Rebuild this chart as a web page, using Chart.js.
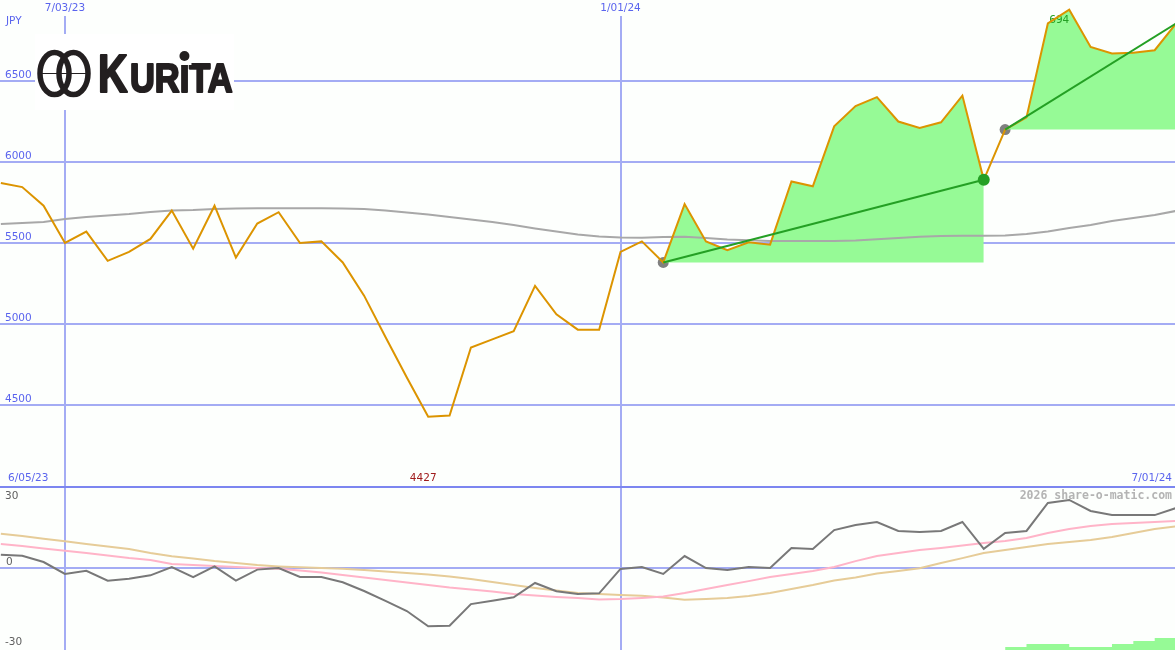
<!DOCTYPE html>
<html>
<head>
<meta charset="utf-8">
<title>Kurita</title>
<script src="https://cdn.jsdelivr.net/npm/chart.js@4.4.1/dist/chart.umd.min.js"></script>
<style>
  html, body { margin: 0; padding: 0; background: #fdfffd; }
  #wrap { position: relative; width: 1175px; height: 650px; overflow: hidden; }
  canvas { position: absolute; left: 0; }
  #priceChart { top: 0; }
  #oscChart { top: 488px; }
</style>
</head>
<body>
<div id="wrap">
  <canvas id="priceChart" width="1175" height="488"></canvas>
  <canvas id="oscChart" width="1175" height="162"></canvas>
</div>
<script>
// weekly closes, week 0 = 12 Jun 2023 ... week 55 = 1 Jul 2024
var price = [5870, 5845, 5730, 5500, 5570, 5390, 5445, 5525, 5700, 5465,
             5730, 5410, 5620, 5690, 5500, 5510, 5380, 5175, 4920, 4670,
             4427, 4435, 4855, 4905, 4955, 5235, 5060, 4965, 4965, 5445,
             5510, 5380, 5740, 5510, 5455, 5505, 5490, 5880, 5850, 6220,
             6345, 6400, 6250, 6210, 6245, 6410, 5890, 6200, 6275, 6855,
             6940, 6710, 6670, 6675, 6690, 6855];
var priceAvg = [5617, 5623, 5630, 5648, 5660, 5670, 5679, 5691, 5701, 5704,
                5710, 5713, 5714, 5714, 5714, 5714, 5713, 5710, 5701, 5688,
                5676, 5660, 5645, 5630, 5611, 5590, 5571, 5552, 5540, 5534,
                5533, 5537, 5539, 5531, 5522, 5517, 5512, 5512, 5512, 5512,
                5515, 5523, 5531, 5539, 5543, 5545, 5545, 5546, 5556, 5571,
                5593, 5611, 5636, 5654, 5673, 5698];
// lower panel
var momentum = [5.8, 5.3, 2.6, -2.6, -1.2, -5.5, -4.7, -3.2, 0.4, -4.0,
                0.7, -5.5, -0.7, 0, -3.9, -3.9, -6.2, -10, -14.3, -18.7,
                -25.3, -25.1, -15.7, -14.2, -12.7, -6.5, -10.1, -11.3, -11, -0.4,
                0.4, -2.6, 5.2, 0, -0.9, 0.4, 0, 8.7, 8.3, 16.5,
                18.7, 20, 16.1, 15.7, 16.1, 20, 8.3, 15.2, 16.1, 28.3,
                29.6, 24.8, 23, 23, 23, 26.1];
var momentumAvg = [10.4, 9.6, 8.5, 7.5, 6.5, 5.4, 4.3, 3.5, 1.7, 1.3,
                   0.9, 0.4, 0, -0.3, -1.1, -2, -3, -4.1, -5.2, -6.3,
                   -7.4, -8.5, -9.3, -10.2, -11.3, -12, -12.6, -13, -13.7, -13.5,
                   -13, -12.4, -10.9, -9.1, -7.4, -5.7, -3.9, -2.6, -1.3, 0.4,
                   3, 5.2, 6.5, 7.8, 8.7, 9.8, 10.9, 11.7, 13, 15.2,
                   17, 18.3, 19.1, 19.6, 20, 20.4];
var momentumSlow = [14.9, 13.9, 12.7, 11.6, 10.4, 9.3, 8.3, 6.5, 5.1, 4.1,
                    3, 2.2, 1.3, 0.7, 0.3, 0, -0.3, -0.9, -1.5, -2.2,
                    -2.8, -3.7, -4.8, -6.1, -7.4, -8.7, -9.8, -10.9, -11.3, -11.7,
                    -12.1, -12.8, -13.8, -13.5, -13, -12.2, -10.9, -9.1, -7.4, -5.4,
                    -4.1, -2.4, -1.3, -0.1, 2.2, 4.3, 6.5, 7.8, 9.1, 10.4,
                    11.3, 12.2, 13.5, 15.2, 17, 18.1];
var volWeeks = [47, 48, 49, 50, 51, 52, 53, 54, 55];
var vol = [1, 2, 2, 1, 1, 2, 3, 4, 4];

// trend segments (start week, end week)
var trendA = [31, 46];
var trendB = [47, 55];

var priceTicks = [6500, 6000, 5500, 5000, 4500];
var dateWeeks = [3, 29];
var dateLabels = ['7/03/23', '1/01/24'];
var rangeLabels = ['6/05/23', '7/01/24'];
var oscTicks = ['30', '0', '-30'];
var hiLabel = '694';   // as printed next to the high

var GRID = '#a4acf4', SEP = '#7c86f0', BLUE = '#5a64ee';
var PRICE = '#dc9400', GREEN = '#24a024', FILL = '#96fa96';
var LABEL_FONT = '10.5px "DejaVu Sans"';

function xy(ys, from, to) {
  var out = [];
  if (from === undefined) from = 0;
  if (to === undefined) to = ys.length - 1;
  for (var i = from; i <= to; i++) out.push({ x: i, y: ys[i] });
  return out;
}
function pick(ys, weeks) {
  return weeks.map(function (w) { return { x: w, y: ys[w] }; });
}
function hLine(ctx, x0, x1, y) {
  ctx.beginPath(); ctx.moveTo(x0, y); ctx.lineTo(x1, y); ctx.stroke();
}
function vLine(ctx, x, y0, y1) {
  ctx.beginPath(); ctx.moveTo(x, y0); ctx.lineTo(x, y1); ctx.stroke();
}

function drawLogo(ctx) {
  var INK = '#231f20';
  ctx.fillStyle = '#ffffff';
  ctx.fillRect(35, 34, 199, 76);
  ctx.strokeStyle = INK;
  ctx.lineWidth = 5.5;
  [54.5, 73.5].forEach(function (cx) {
    ctx.beginPath(); ctx.ellipse(cx, 73.5, 14.5, 21, 0, 0, 2 * Math.PI); ctx.stroke();
  });
  ctx.lineWidth = 1.2;
  hLine(ctx, 42, 86, 73.5);
  ctx.fillStyle = INK;
  ctx.strokeStyle = INK;
  ctx.lineWidth = 2.2;
  ctx.lineJoin = 'round';
  ctx.textAlign = 'left';
  ctx.textBaseline = 'alphabetic';
  ctx.save();
  ctx.font = 'bold 54px "Liberation Sans"';
  ctx.scale(0.76, 1);
  ctx.fillText('K', 98 / 0.76, 92);
  ctx.strokeText('K', 98 / 0.76, 92);
  ctx.restore();
  ctx.save();
  var sx = 0.86;
  ctx.font = 'bold 40px "Liberation Sans"';
  ctx.scale(sx, 1);
  ctx.fillText('URITA', 130 / sx, 92);
  ctx.strokeText('URITA', 130 / sx, 92);
  var ix = 130 / sx + ctx.measureText('UR').width + ctx.measureText('I').width / 2;
  ctx.restore();
  ctx.fillStyle = '#ffffff';
  ctx.fillRect(ix * sx - 7, 60, 14, 5);
  ctx.fillStyle = INK;
  ctx.beginPath(); ctx.arc(ix * sx, 56, 5, 0, 2 * Math.PI); ctx.fill();
}

var topDecor = {
  id: 'topDecor',
  beforeDatasetsDraw: function (chart) {
    var ctx = chart.ctx, x = chart.scales.x, y = chart.scales.y;
    var w = chart.width, h = chart.height;
    ctx.save();
    ctx.lineWidth = 2;
    ctx.strokeStyle = GRID;
    priceTicks.forEach(function (v) { hLine(ctx, 0, w, Math.round(y.getPixelForValue(v))); });
    dateWeeks.forEach(function (d) { vLine(ctx, Math.round(x.getPixelForValue(d)), 16, h); });
    ctx.strokeStyle = SEP;
    hLine(ctx, 0, w, h - 1);

    ctx.font = LABEL_FONT;
    ctx.textBaseline = 'middle';
    ctx.fillStyle = BLUE;
    ctx.textAlign = 'left';
    ctx.fillText('JPY', 6, 21);
    priceTicks.forEach(function (v) { ctx.fillText(String(v), 5, Math.round(y.getPixelForValue(v)) - 6); });
    ctx.fillText(rangeLabels[0], 8, h - 10);
    ctx.textAlign = 'right';
    ctx.fillText(rangeLabels[1], w - 3, h - 10);
    ctx.textAlign = 'center';
    dateWeeks.forEach(function (d, i) { ctx.fillText(dateLabels[i], x.getPixelForValue(d), 8); });

    var lo = Math.min.apply(null, price), loW = price.indexOf(lo);
    ctx.fillStyle = '#a01c1c';
    ctx.fillText(String(lo), x.getPixelForValue(loW) - 5, h - 10);

    drawLogo(ctx);
    ctx.restore();
  },
  afterDatasetDraw: function (chart, args) {
    // high label sits on top of the shaded area, under the price line
    if (args.index !== 2) return;
    var ctx = chart.ctx, x = chart.scales.x, y = chart.scales.y;
    var hi = Math.max.apply(null, price), hiW = price.indexOf(hi);
    ctx.save();
    ctx.font = LABEL_FONT;
    ctx.textBaseline = 'middle';
    ctx.textAlign = 'left';
    ctx.fillStyle = GREEN;
    ctx.fillText(hiLabel, x.getPixelForValue(hiW) - 20, y.getPixelForValue(hi) + 11);
    ctx.restore();
  }
};

var oscDecor = {
  id: 'oscDecor',
  beforeDatasetsDraw: function (chart) {
    var ctx = chart.ctx, x = chart.scales.x, y = chart.scales.y;
    var w = chart.width, h = chart.height;
    var zero = Math.round(y.getPixelForValue(0));
    ctx.save();
    ctx.lineWidth = 2;
    ctx.strokeStyle = GRID;
    hLine(ctx, 0, w, zero);
    dateWeeks.forEach(function (d) { vLine(ctx, Math.round(x.getPixelForValue(d)), 0, h); });
    ctx.font = LABEL_FONT;
    ctx.textBaseline = 'middle';
    ctx.textAlign = 'left';
    ctx.fillStyle = '#606060';
    ctx.fillText(oscTicks[0], 5, 8);
    ctx.fillText(oscTicks[1], 6, zero - 6);
    ctx.fillText(oscTicks[2], 5, h - 8);
    ctx.font = 'bold 11.5px "DejaVu Sans Mono"';
    ctx.textAlign = 'right';
    ctx.fillStyle = '#b4b4b4';
    ctx.fillText('2026 share-o-matic.com', w - 3, 8);
    ctx.restore();
  }
};

var xScale = { type: 'linear', display: false, min: -0.04, max: 54.95 };
var common = {
  responsive: false,
  animation: false,
  devicePixelRatio: 1,
  layout: { padding: 0, autoPadding: false },
  elements: { point: { radius: 0 }, line: { tension: 0 } },
  plugins: { legend: { display: false }, tooltip: { enabled: false } }
};

new Chart(document.getElementById('priceChart'), {
  type: 'line',
  data: {
    datasets: [
      { data: pick(price, [trendA[0], trendB[0]]), showLine: false, pointRadius: 5.5,
        pointBackgroundColor: '#808080', pointBorderWidth: 0, order: 9 },
      { data: xy(price, trendA[0], trendA[1]), fill: { value: price[trendA[0]] },
        backgroundColor: FILL, borderWidth: 0, order: 8 },
      { data: xy(price, trendB[0], trendB[1]), fill: { value: price[trendB[0]] },
        backgroundColor: FILL, borderWidth: 0, order: 8 },
      { data: xy(priceAvg), borderColor: '#a8a8a8', borderWidth: 2, order: 7 },
      { data: xy(price), borderColor: PRICE, borderWidth: 2, order: 6 },
      { data: pick(price, trendA), borderColor: GREEN, borderWidth: 2, order: 5 },
      { data: pick(price, trendB), borderColor: GREEN, borderWidth: 2, order: 5 },
      { data: pick(price, [trendA[1]]), showLine: false, pointRadius: 6,
        pointBackgroundColor: GREEN, pointBorderWidth: 0, order: 4 }
    ]
  },
  options: Object.assign({}, common, {
    scales: {
      x: xScale,
      y: { display: false, min: 3987.7, max: 7000 }
    }
  }),
  plugins: [topDecor]
});

new Chart(document.getElementById('oscChart'), {
  type: 'line',
  data: {
    datasets: [
      { data: volWeeks.map(function (wk, i) { return { x: wk, y: vol[i] }; }), yAxisID: 'yv',
        stepped: 'before', fill: 'origin', backgroundColor: FILL, borderWidth: 0, order: 9 },
      { data: xy(momentumSlow), borderColor: '#e6cc98', borderWidth: 2, order: 4 },
      { data: xy(momentumAvg), borderColor: '#ffb4c8', borderWidth: 2, order: 3 },
      { data: xy(momentum), borderColor: '#787878', borderWidth: 2, order: 1 }
    ]
  },
  options: Object.assign({}, common, {
    scales: {
      x: xScale,
      y: { display: false, min: -35.65, max: 34.78 },
      yv: { display: false, min: 0, max: 54 }
    }
  }),
  plugins: [oscDecor]
});
</script>
</body>
</html>
